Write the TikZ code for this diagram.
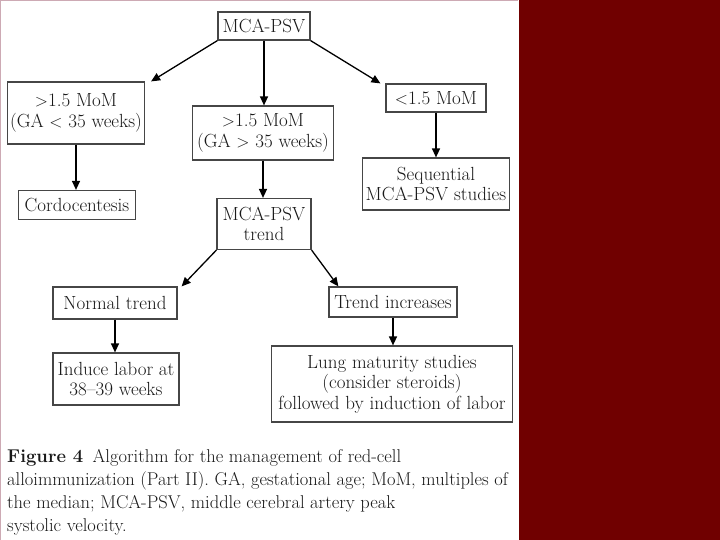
\documentclass[tikz,border=0pt]{standalone}
\usepackage{amssymb}
\usepackage{amsmath}
\usetikzlibrary{arrows.meta}

\definecolor{bandred}{RGB}{112,0,0}
\definecolor{edgepink}{RGB}{205,170,180}
\definecolor{boxgray}{RGB}{70,70,70}

\tikzset{
  box/.style={draw=boxgray, line width=1.2pt, inner sep=0pt, align=center,
    font=\fontsize{19}{20.5}\selectfont, text=black!90},
  arr/.style={line width=1.3pt, -{Triangle[width=8pt,length=9pt]}}
}

\begin{document}
\begin{tikzpicture}[x=1pt,y=-1pt]
  \useasboundingbox (0,0) rectangle (720,540);
  \fill[color=white] (0,0) rectangle (519,540);
  \fill[color=bandred] (519,0) rectangle (720,540);
  \draw[color=edgepink, line width=1pt] (0.5,0.5) -- (518,0.5);
  \draw[color=edgepink, line width=1pt] (0.5,0.5) -- (0.5,540);

  \node[box, minimum width=92pt, minimum height=28pt] (psv) at (264,26) {MCA-PSV};
  \node[box, minimum width=137pt, minimum height=62pt] (lt) at (76,113) {${>}$1.5 MoM\\(GA ${<}$ 35 weeks)};
  \node[box, minimum width=141pt, minimum height=54pt] (gt) at (263,133) {${>}$1.5 MoM\\(GA ${>}$ 35 weeks)};
  \node[box, minimum width=100pt, minimum height=28pt] (low) at (436,98) {${<}$1.5 MoM};

  \node[box, minimum width=117pt, minimum height=29pt] (cordo) at (77,205) {Cordocentesis};
  \node[box, minimum width=147pt, minimum height=52pt] (seq) at (436,184) {Sequential\\MCA-PSV studies};
  \node[box, minimum width=94pt, minimum height=51pt] (trend) at (264,224) {MCA-PSV\\trend};

  \node[box, minimum width=124pt, minimum height=32pt] (normal) at (115,303) {Normal trend};
  \node[box, minimum width=128pt, minimum height=30pt] (incr) at (393,302) {Trend increases};

  \node[box, minimum width=126pt, minimum height=52pt] (induce) at (116,379) {Induce labor at\\38--39 weeks};
  \node[box, minimum width=241pt, minimum height=76pt] (lung) at (392,384) {Lung maturity studies\\(consider steroids)\\followed by induction of labor};

  \draw[arr] (psv.south west) -- ([xshift=6pt]lt.north east);
  \draw[arr] (psv.south) -- (psv.south |- gt.north);
  \draw[arr] (psv.south east) -- ([xshift=-5pt]low.north west);
  \draw[arr] (lt.south) -- (lt.south |- cordo.north);
  \draw[arr] (gt.south) -- (gt.south |- trend.north);
  \draw[arr] (low.south) -- (low.south |- seq.north);
  \draw[arr] (trend.south west) -- ([xshift=4pt]normal.north east);
  \draw[arr] (trend.south east) -- ([xshift=10pt]incr.north west);
  \draw[arr] (normal.south) -- (normal.south |- induce.north);
  \draw[arr] (incr.south) -- (incr.south |- lung.north);

  \node[anchor=north west, align=left, inner sep=0pt, text=black!90,
    font=\fontsize{18.5}{23}\selectfont] (caption) at (7,449)
    {\textbf{Figure 4}\enspace Algorithm for the management of red-cell\\
     alloimmunization (Part II). GA, gestational age; MoM, multiples of\\
     the median; MCA-PSV, middle cerebral artery peak\\
     systolic velocity.};
\end{tikzpicture}
\end{document}
